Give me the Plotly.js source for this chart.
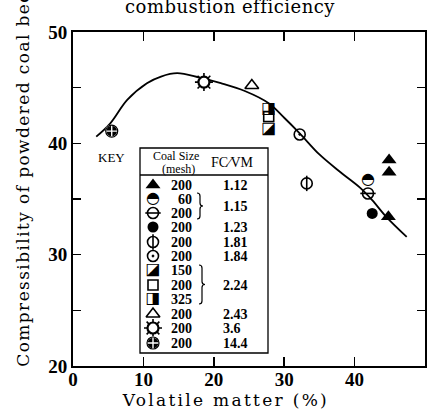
<!DOCTYPE html>
<html><head><meta charset="utf-8">
<script src="https://cdn.plot.ly/plotly-3.0.1.min.js"></script>
<style>
html,body{margin:0;padding:0;background:#fff}
#chart{width:434px;height:410px}
#chart .xtitle{letter-spacing:2.3px}
#chart .ytitle{letter-spacing:1.4px}
#chart .gtitle{letter-spacing:0.5px}
</style>
</head><body><div id="chart"></div>
<script>
// ---------- data ----------
const curveVM   = [3.3, 5.3, 7.7, 10.5, 12.5, 14.8, 18.0, 21.0, 24.4, 27.8, 30.0, 32.2, 35.0, 38.0, 40.8, 42.5, 44.5, 47.4];
const curveComp = [40.6, 41.8, 43.9, 45.4, 46.0, 46.3, 45.9, 45.4, 44.7, 43.6, 42.3, 40.9, 39.0, 37.4, 36.0, 34.9, 33.4, 31.6];

const vm_112_200 = [44.9, 44.9, 44.8]; const comp_112_200 = [38.5, 37.4, 33.4];
const vm_115_60  = [41.9];             const comp_115_60  = [36.7];
const vm_115_200 = [41.9];             const comp_115_200 = [35.5];
const vm_123_200 = [42.5];             const comp_123_200 = [33.7];
const vm_181_200 = [33.2];             const comp_181_200 = [36.4];
const vm_184_200 = [32.2];             const comp_184_200 = [40.8];
const vm_224_150 = [27.8];             const comp_224_150 = [41.3];
const vm_224_200 = [27.8];             const comp_224_200 = [42.4];
const vm_224_325 = [27.8];             const comp_224_325 = [43.1];
const vm_243_200 = [25.4];             const comp_243_200 = [45.2];
const vm_36_200  = [18.6];             const comp_36_200  = [45.5];
const vm_144_200 = [5.5];              const comp_144_200 = [41.1];

const meshLabels = ['200', '60', '200', '200', '200', '200', '150', '200', '325', '200', '200', '200'];
const fcvmLabels = ['1.12', '1.15', '1.23', '1.81', '1.84', '2.24', '2.43', '3.6', '14.4'];
const xTickVals = [0, 10, 20, 30, 40, 50];
const yTickVals = [20, 25, 30, 35, 40, 45, 50];
const yTickText = ['20', '', '30', '', '40', '', '50'];

// ---------- styles ----------
const K = '#000';
const mk = (symbol, size, opts) => Object.assign({kind: 'm', symbol, size}, opts || {});
const tx = (ch, size) => ({kind: 't', ch, size});
const styles = [
  [mk('triangle-up', 13, {color: K})],
  [tx('\u25D3', 16)],
  [mk('circle-open', 11, {lw: 1.6}), mk('line-ew-open', 11, {lw: 1.6})],
  [mk('circle', 11, {color: K})],
  [mk('circle-open', 11, {lw: 1.6}), mk('line-ns-open', 11, {lw: 1.6})],
  [mk('circle-open-dot', 11, {lw: 1.6})],
  [tx('\u25EA', 16)],
  [mk('square-open', 10, {lw: 1.6})],
  [tx('\u25E8', 16)],
  [mk('triangle-up-open', 12, {lw: 1.6})],
  [mk('asterisk-open', 15, {lw: 1.6}), mk('circle', 11, {color: '#fff', lw: 2.2, lc: K})],
  [mk('circle-cross', 12, {color: K, lw: 1.4, lc: '#fff'}), mk('circle-open', 12, {lw: 1.2})]
];
const seriesX = [vm_112_200, vm_115_60, vm_115_200, vm_123_200, vm_181_200, vm_184_200, vm_224_150, vm_224_200, vm_224_325, vm_243_200, vm_36_200, vm_144_200];
const seriesY = [comp_112_200, comp_115_60, comp_115_200, comp_123_200, comp_181_200, comp_184_200, comp_224_150, comp_224_200, comp_224_325, comp_243_200, comp_36_200, comp_144_200];

// plot-area geometry in pixels (layout only)
const L = 73, T = 32, W = 352, H = 334;
const X0 = 0, X1 = 50, Y0 = 20, Y1 = 50;
const pxToX = px => X0 + (px - L) / W * (X1 - X0);
const pyToY = py => Y0 + (T + H - py) / H * (Y1 - Y0);
const pxP = px => (px - L) / W;
const pyP = py => (T + H - py) / H;

function buildTraces(xs, ys, style) {
  return style.map(s => {
    if (s.kind === 't') {
      return {type: 'scatter', mode: 'text', x: xs, y: ys, text: xs.map(() => s.ch),
        textposition: 'middle center', textfont: {family: 'DejaVu Sans', size: s.size, color: K},
        hoverinfo: 'skip', cliponaxis: false};
    }
    return {type: 'scatter', mode: 'markers', x: xs, y: ys, hoverinfo: 'skip', cliponaxis: false,
      marker: {symbol: s.symbol, size: s.size, color: s.color || K,
        line: {color: s.lc || K, width: s.lw === undefined ? 0 : s.lw}}};
  });
}

const traces = [{
  type: 'scatter', mode: 'lines', x: curveVM, y: curveComp,
  line: {color: K, width: 1.8, shape: 'spline', smoothing: 1.0}, hoverinfo: 'skip'
}];
seriesX.forEach((xs, i) => traces.push(...buildTraces(xs, seriesY[i], styles[i])));

// legend (key) rows
const rowPy = [185, 199, 213, 227, 242, 256, 270, 285, 299, 314, 328, 343];
const symPx = 153;
styles.forEach((st, i) => traces.push(...buildTraces([pxToX(symPx)], [pyToY(rowPy[i])], st)));

const annotations = [];
const serifB = {family: 'Liberation Serif', size: 14, color: K, weight: 'bold'};
const serif = {family: 'Liberation Serif', size: 12, color: K};
const ann = (px, py, text, font, xanchor) => annotations.push({xref: 'paper', yref: 'paper', x: pxP(px), y: pyP(py),
  xanchor: xanchor || 'center', yanchor: 'middle', text, showarrow: false, font});
meshLabels.forEach((m, i) => ann(194, rowPy[i], m, serifB, 'right'));
const fcRowPy = [185, 206, 227, 242, 256, 285, 314, 328, 343];
fcvmLabels.forEach((f, i) => ann(221, fcRowPy[i], f, serifB, 'left'));
ann(111, 157, 'KEY', {family: 'Liberation Serif', size: 13, color: K});
ann(176, 156, 'Coal Size', serif);
ann(178, 169, '(mesh)', serif);
ann(232, 162, 'FC\u2215VM', {family: 'Liberation Serif', size: 14, color: K});

function bracket(px, pyTop, pyBot) {
  const x0 = pxP(px), x1 = pxP(px + 3), x2 = pxP(px + 6);
  const yt = pyP(pyTop), yb = pyP(pyBot), ym = pyP((pyTop + pyBot) / 2);
  const d = pyP(0) - pyP(3);
  return {type: 'path', xref: 'paper', yref: 'paper', line: {color: K, width: 1.2},
    path: `M ${x0} ${yt} Q ${x1} ${yt} ${x1} ${yt - d} L ${x1} ${ym + d} Q ${x1} ${ym} ${x2} ${ym} ` +
          `Q ${x1} ${ym} ${x1} ${ym - d} L ${x1} ${yb + d} Q ${x1} ${yb} ${x0} ${yb}`};
}

const shapes = [
  {type: 'rect', xref: 'paper', yref: 'paper', x0: pxP(140), x1: pxP(268), y0: pyP(353), y1: pyP(148),
    line: {color: K, width: 1.3}, fillcolor: 'rgba(255,255,255,0)', layer: 'below'},
  {type: 'line', xref: 'paper', yref: 'paper', x0: pxP(140), x1: pxP(268), y0: pyP(175), y1: pyP(175),
    line: {color: K, width: 1.3}},
  bracket(197, 193, 219),
  bracket(199, 265, 304)
];

const nb = n => '\u00a0'.repeat(n);
const layout = {
  width: 434, height: 410,
  margin: {l: L, r: 434 - L - W, t: T, b: 410 - T - H},
  paper_bgcolor: '#fff', plot_bgcolor: '#fff', showlegend: false,
  title: {text: 'combustion efficiency', x: 230 / 434, xref: 'container', xanchor: 'center',
    y: 1 - 7 / 410, yref: 'container', yanchor: 'middle',
    font: {family: 'DejaVu Serif', size: 18, color: K}},
  xaxis: {range: [X0, X1], tickvals: xTickVals, ticks: 'inside', ticklen: 9, tickwidth: 1.5, tickcolor: K,
    showline: true, linewidth: 2, linecolor: K, mirror: 'ticks', showgrid: false, zeroline: false,
    ticklabelstandoff: -5,
    tickfont: {family: 'Liberation Serif', size: 19, color: K, weight: 'bold'},
    title: {text: 'Volatile matter (%)' + nb(6) + '\u200b', font: {family: 'DejaVu Serif', size: 17, color: K}, standoff: 6}},
  yaxis: {range: [Y0, Y1], tickvals: yTickVals, ticktext: yTickText, ticks: 'inside', ticklen: 8, tickwidth: 1.5,
    tickcolor: K, showline: true, linewidth: 2, linecolor: K, mirror: 'ticks', showgrid: false, zeroline: false,
    tickfont: {family: 'Liberation Serif', size: 19, color: K, weight: 'bold'},
    title: {text: '\u200b' + nb(6) + 'Compressibility of powdered coal bed', font: {family: 'DejaVu Serif', size: 17, color: K}, standoff: 14}},
  annotations, shapes
};

Plotly.newPlot('chart', traces, layout, {staticPlot: true, displayModeBar: false});
</script></body></html>
